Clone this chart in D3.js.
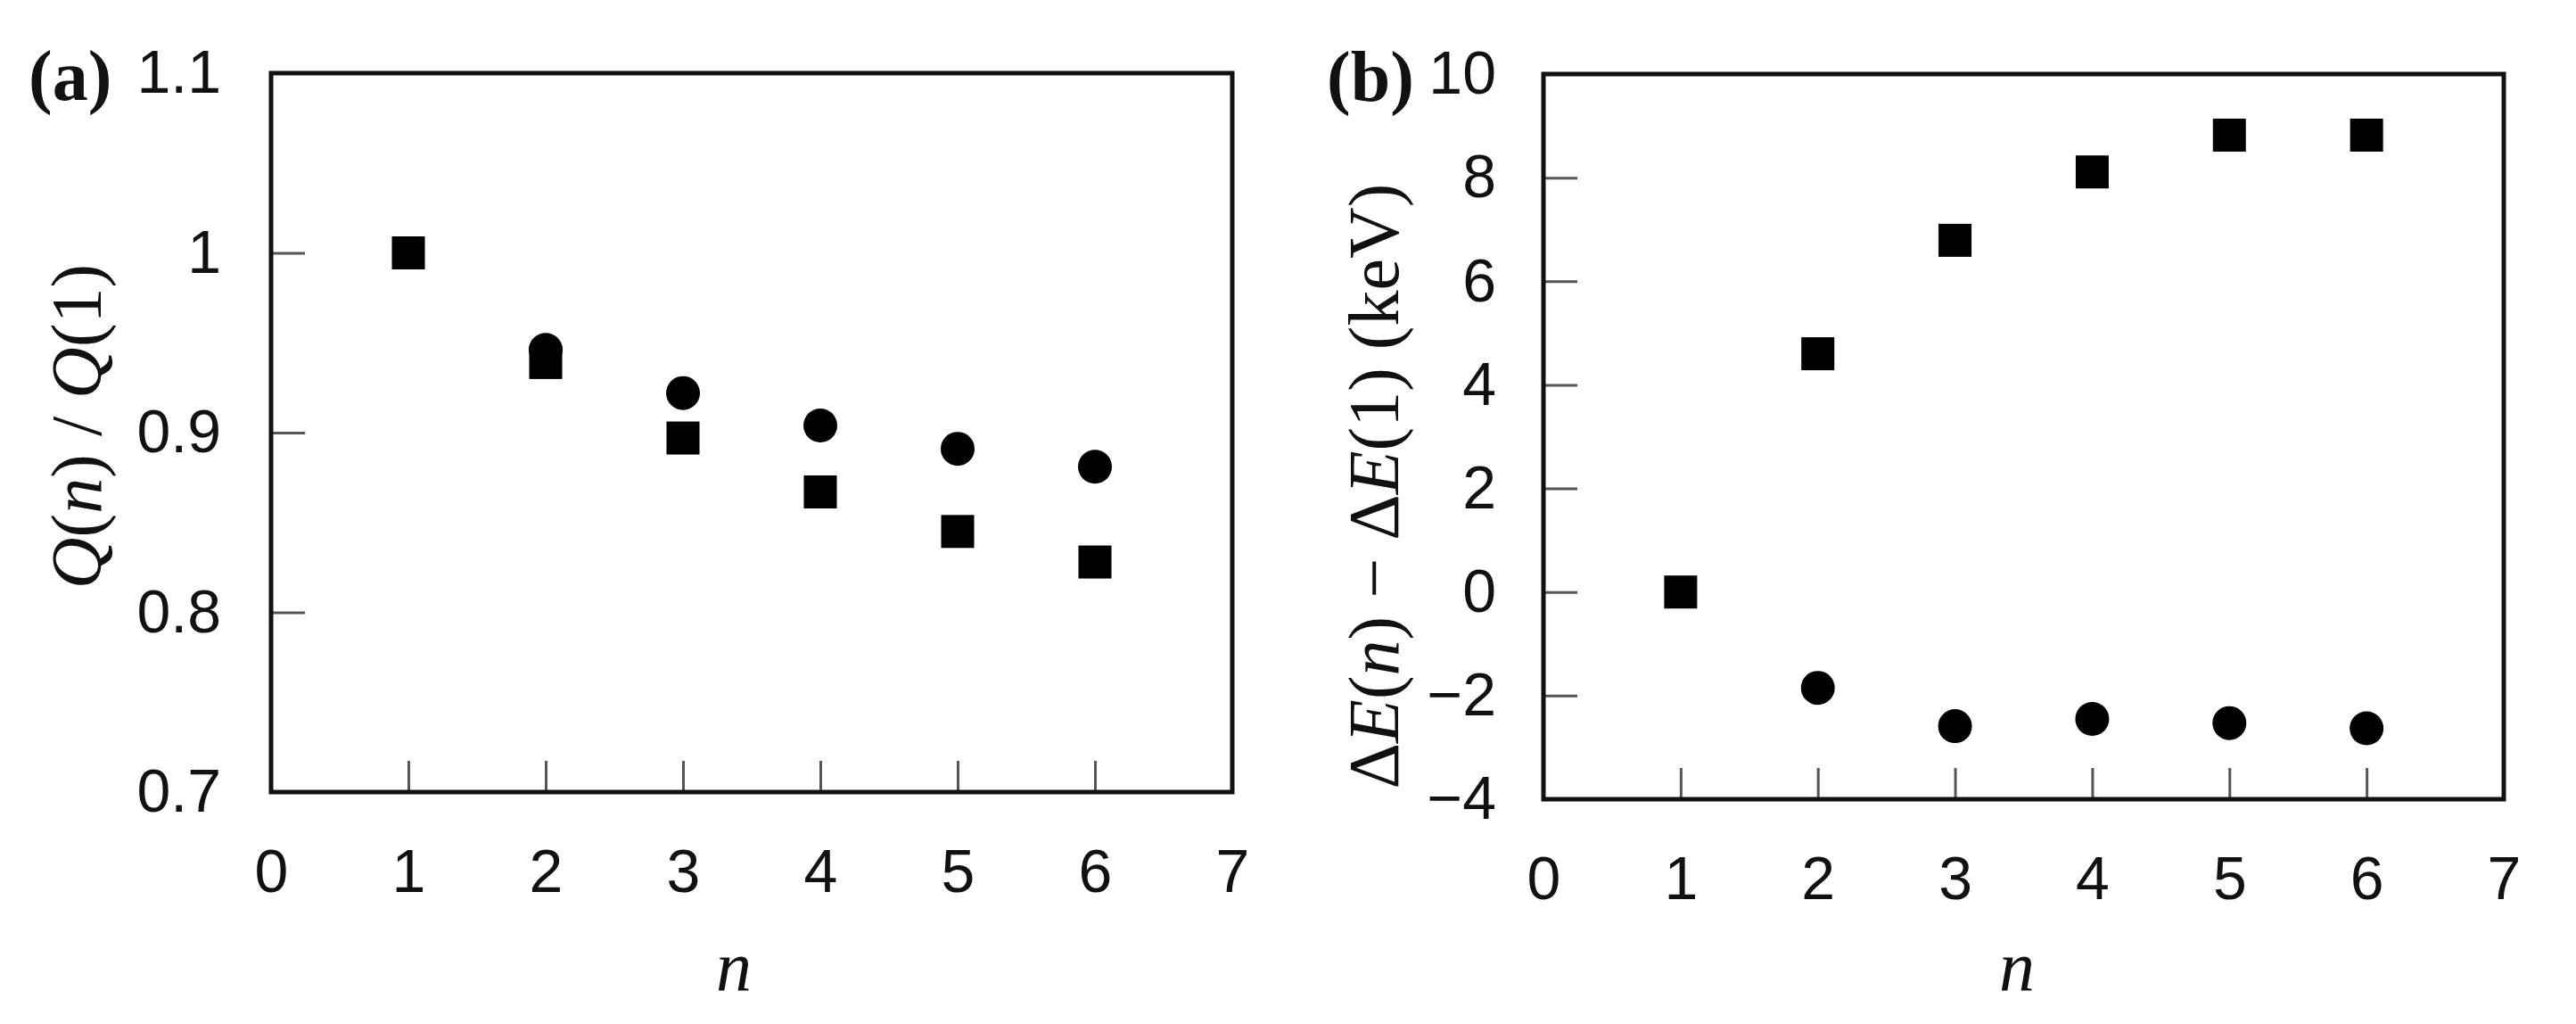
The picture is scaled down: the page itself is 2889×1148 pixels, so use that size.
<!DOCTYPE html>
<html>
<head>
<meta charset="utf-8">
<script src="https://cdn.jsdelivr.net/npm/d3@7"></script>
<style>
  body { margin: 0; background: #fff; }
  svg { display: block; }
  .tick text { font-family: "Liberation Sans", Arial, sans-serif; font-size: 68px; fill: #111; }
  .title { font-family: "Liberation Serif", "Times New Roman", serif; font-size: 80px; fill: #111; }
</style>
</head>
<body>
<div id="vis"></div>
<script>
// data
var nValues = [1, 2, 3, 4, 5, 6];
var qSquares = [1.0, 0.939, 0.897, 0.867, 0.845, 0.828];
var qCircles = [null, 0.946, 0.922, 0.904, 0.891, 0.881];
var eSquares = [0.0, 4.60, 6.79, 8.11, 8.82, 8.82];
var eCircles = [null, -1.85, -2.59, -2.45, -2.53, -2.63];

var xTicks = [0, 1, 2, 3, 4, 5, 6, 7];
var qTicks = [0.7, 0.8, 0.9, 1.0, 1.1];
var eTicks = [-4, -2, 0, 2, 4, 6, 8, 10];

var svg = d3.select("#vis").append("svg")
  .attr("width", 2889)
  .attr("height", 1148);

function pairs(ys) {
  return nValues.map(function(n, i) { return {n: n, v: ys[i]}; })
    .filter(function(d) { return d.v !== null; });
}

function panel(opt) {
  var w = opt.right - opt.left, h = opt.bottom - opt.top;
  var g = svg.append("g").attr("transform", "translate(" + opt.left + "," + opt.top + ")");

  var x = d3.scaleLinear().domain([0, 7]).range([0, w]);
  var y = d3.scaleLinear().domain(opt.yDomain).range([h, 0]);

  // x axis, ticks point inward
  var xa = g.append("g")
    .attr("transform", "translate(0," + h + ")")
    .call(d3.axisBottom(x).tickValues(xTicks).tickFormat(d3.format("d"))
      .tickSizeInner(-35).tickSizeOuter(0).tickPadding(64));
  // y axis
  var ya = g.append("g")
    .call(d3.axisLeft(y).tickValues(opt.yTicks).tickFormat(opt.yFormat)
      .tickSizeInner(-38).tickSizeOuter(0).tickPadding(opt.yPad));

  [xa, ya].forEach(function(a) {
    a.select(".domain").remove();
    a.selectAll(".tick line").attr("stroke", "#555").attr("stroke-width", 3);
    a.selectAll(".tick text").attr("fill", "#111");
  });
  xa.selectAll(".tick").filter(function(d) { return d === 0 || d === 7; }).select("line").remove();
  ya.selectAll(".tick").filter(function(d) { return d === opt.yDomain[0] || d === opt.yDomain[1]; }).select("line").remove();

  // frame
  g.append("rect")
    .attr("width", w).attr("height", h)
    .attr("fill", "none").attr("stroke", "#111").attr("stroke-width", 5);

  // circles
  g.selectAll(".circ")
    .data(pairs(opt.circles))
    .enter().append("circle")
    .attr("cx", function(d) { return x(d.n); })
    .attr("cy", function(d) { return y(d.v); })
    .attr("r", 19)
    .attr("fill", "#000");

  // squares
  g.selectAll(".sq")
    .data(pairs(opt.squares))
    .enter().append("rect")
    .attr("x", function(d) { return x(d.n) - 18.5; })
    .attr("y", function(d) { return y(d.v) - 18.5; })
    .attr("width", 37)
    .attr("height", 37)
    .attr("fill", "#000");

  return g;
}

panel({left: 304, right: 1382, top: 82, bottom: 888,
  yDomain: [0.7, 1.1], yTicks: qTicks, yPad: 56,
  yFormat: function(d) { return d === 1 ? "1" : d3.format(".1f")(d); },
  squares: qSquares, circles: qCircles});

panel({left: 1731, right: 2808, top: 83, bottom: 896,
  yDomain: [-4, 10], yTicks: eTicks, yPad: 53,
  yFormat: d3.format("d"),
  squares: eSquares, circles: eCircles});

// panel letters
svg.append("text").attr("class", "title").attr("x", 32).attr("y", 112)
  .attr("font-weight", "bold").text("(a)");
svg.append("text").attr("class", "title").attr("x", 1488).attr("y", 113)
  .attr("font-weight", "bold").text("(b)");

// y titles
var qt = svg.append("text").attr("class", "title")
  .attr("transform", "translate(113,478) rotate(-90)")
  .attr("text-anchor", "middle");
qt.append("tspan").attr("font-style", "italic").text("Q");
qt.append("tspan").text("(");
qt.append("tspan").attr("font-style", "italic").text("n");
qt.append("tspan").text(") / ");
qt.append("tspan").attr("font-style", "italic").text("Q");
qt.append("tspan").text("(1)");

var et = svg.append("text").attr("class", "title")
  .attr("transform", "translate(1568,545) rotate(-90)")
  .attr("text-anchor", "middle");
et.append("tspan").text("Δ");
et.append("tspan").attr("font-style", "italic").text("E");
et.append("tspan").text("(");
et.append("tspan").attr("font-style", "italic").text("n");
et.append("tspan").text(") − Δ");
et.append("tspan").attr("font-style", "italic").text("E");
et.append("tspan").text("(1) (keV)");

// x titles
svg.append("text").attr("class", "title").attr("x", 823).attr("y", 1110)
  .attr("text-anchor", "middle").attr("font-style", "italic").text("n");
svg.append("text").attr("class", "title").attr("x", 2262).attr("y", 1110)
  .attr("text-anchor", "middle").attr("font-style", "italic").text("n");
</script>
</body>
</html>
